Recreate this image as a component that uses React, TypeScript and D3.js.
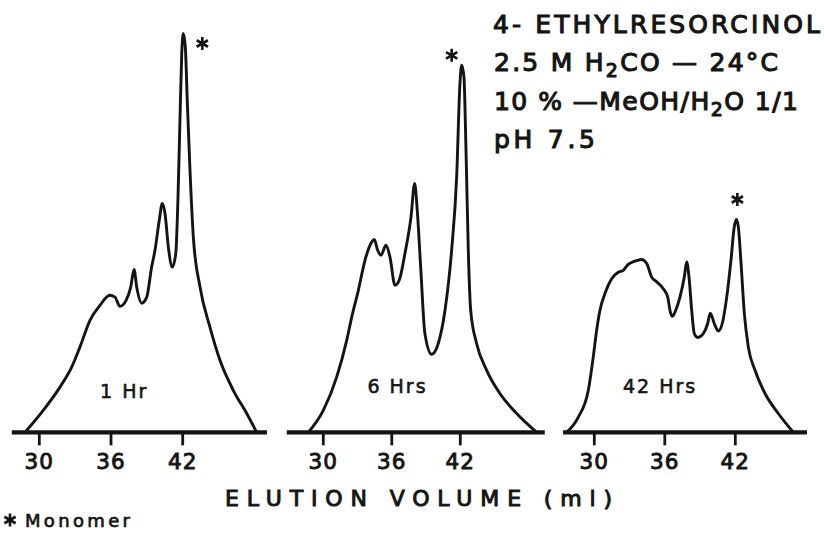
import React from "react";
import * as d3 from "d3";

// ---- data (elution volume in ml, relative absorbance) ----
const tickValues = [30, 36, 42];
const tickLabels = ["30", "36", "42"];
const panelLabels = ["1 Hr", "6 Hrs", "42 Hrs"];

const vol1 = [28.8, 30.33, 31.73, 32.71, 33.4, 34.24, 35.08, 35.9, 36.33, 36.75, 37.26, 37.65, 37.93, 38.15, 38.57, 38.99, 39.4, 39.68, 40.04, 40.29, 40.52, 40.8, 41.13, 41.42, 41.63, 41.77, 41.92, 42.05, 42.22, 42.39, 42.61, 42.89, 43.45, 44.28, 45.12, 46.23, 47.36, 48.19];
const abs1 = [0, 5.5, 11.3, 16.3, 21.3, 28, 31.75, 34.25, 33.8, 31.5, 33, 36.3, 40.7, 36.3, 32.3, 33.8, 41.3, 45.5, 53, 57.2, 54.7, 46.3, 41.3, 44.7, 61.3, 78, 94.7, 99.7, 96.3, 82.2, 65.5, 48.8, 36.3, 26.3, 18, 10.5, 4.7, 0];

const vol6 = [28.69, 30, 31.17, 32.05, 32.49, 33.07, 33.65, 34.09, 34.47, 34.76, 35.05, 35.49, 35.84, 36.28, 36.65, 37.15, 37.68, 38, 38.23, 38.53, 38.9, 39.49, 40.07, 40.66, 41.24, 41.68, 41.97, 42.12, 42.32, 42.5, 42.7, 42.91, 43.43, 44.31, 45.47, 46.94, 48.69];
const abs6 = [0, 5.5, 13.8, 23, 28.8, 35.5, 43, 46.75, 48.2, 45.5, 44.25, 46.75, 43.8, 36.75, 38, 44.7, 53.8, 62.2, 55.5, 41.3, 24.7, 19.5, 22.2, 30.5, 45.5, 63.8, 87.2, 91.75, 88.8, 70.5, 45.5, 30.5, 22.2, 15.5, 9.7, 4.7, 0];

const vol42 = [27.65, 28.64, 29.49, 29.91, 30.2, 30.48, 30.91, 31.48, 32.04, 32.47, 32.89, 33.46, 34.03, 34.46, 34.88, 35.31, 35.87, 36.25, 36.44, 36.64, 36.93, 37.29, 37.66, 37.86, 38.06, 38.29, 38.51, 38.8, 39.28, 39.65, 39.87, 40.21, 40.55, 40.89, 41.27, 41.63, 41.91, 42.09, 42.26, 42.49, 42.77, 43.11, 43.68, 44.53, 45.66, 46.94];
const abs42 = [0, 3.8, 10.5, 18.8, 25.5, 30.5, 34.7, 38.4, 40, 40.5, 42, 42.8, 43.2, 42.2, 38.8, 37.6, 35.9, 33.8, 30.5, 29, 30.5, 33.8, 38.8, 42.6, 38.8, 30.5, 24.7, 23.7, 24.7, 27.2, 29.8, 27.2, 25.3, 27.2, 33.8, 43, 51.3, 53.2, 51.3, 42.2, 29.7, 21.3, 15.5, 9.7, 4.7, 0];

const seriesVol = [vol1, vol6, vol42];
const seriesAbs = [abs1, abs6, abs42];

// ---- layout ----
const W = 824;
const H = 535;
const BASE = 432.3;
const INK = "#141414";
const FONT = "'DejaVu Sans', sans-serif";

const panelLayout = [
  { r30: 39.3, r42: 182.7, axis: [27.7, 49.05], label: [37.1, 8.6], star: [19, 10] },
  { r30: 323.3, r42: 460.3, axis: [26.8, 49.4], label: [36.5, 9.8], star: [-10, -10] },
  { r30: 594.3, r42: 735.3, axis: [27.34, 48.1], label: [35.6, 9.8], star: [1, -20] },
];

const y = d3.scaleLinear().domain([0, 100]).range([BASE, BASE - 400]);

function Asterisk({ cx, cy, r = 6.5, w = 2.6 }: { cx: number; cy: number; r?: number; w?: number }) {
  const angles = [90, 30, 150];
  return (
    <g stroke={INK} strokeWidth={w} strokeLinecap="butt">
      {angles.map((a) => {
        const t = (a * Math.PI) / 180;
        return (
          <line
            key={a}
            x1={cx - r * Math.cos(t)}
            y1={cy - r * Math.sin(t)}
            x2={cx + r * Math.cos(t)}
            y2={cy + r * Math.sin(t)}
          />
        );
      })}
    </g>
  );
}

function Panel({ i }: { i: number }) {
  const L = panelLayout[i];
  const x = d3.scaleLinear().domain([30, 42]).range([L.r30, L.r42]);
  const pts: [number, number][] = seriesVol[i].map((v, k) => [v, seriesAbs[i][k]]);
  const line = d3
    .line<[number, number]>()
    .x((d) => x(d[0]))
    .y((d) => y(d[1]))
    .curve(d3.curveMonotoneX);
  const peak = pts.reduce((a, b) => (b[1] > a[1] ? b : a));
  return (
    <g>
      <path d={line(pts) || ""} fill="none" stroke={INK} strokeWidth={2.9} strokeLinejoin="round" />
      <line x1={x(L.axis[0])} x2={x(L.axis[1])} y1={BASE} y2={BASE} stroke={INK} strokeWidth={4.2} />
      {tickValues.map((t, k) => (
        <g key={t}>
          <line x1={x(t)} x2={x(t)} y1={BASE} y2={BASE + 13} stroke={INK} strokeWidth={2.8} />
          <text
            x={x(t)}
            y={BASE + 37}
            textAnchor="middle"
            fontFamily={FONT}
            fontSize={21.5}
            fill={INK}
            stroke={INK}
            strokeWidth={0.9}
            letterSpacing={1}
          >
            {tickLabels[k]}
          </text>
        </g>
      ))}
      <text
        x={x(L.label[0])}
        y={y(L.label[1])}
        textAnchor="middle"
        fontFamily={FONT}
        fontSize={19}
        fill={INK}
        stroke={INK}
        strokeWidth={0.6}
        letterSpacing={2}
      >
        {panelLabels[i]}
      </text>
      <Asterisk cx={x(peak[0]) + L.star[0]} cy={y(peak[1]) + L.star[1]} />
    </g>
  );
}

export default function App() {
  const titleProps = {
    fontFamily: FONT,
    fontSize: 25,
    fill: INK,
    stroke: INK,
    strokeWidth: 1.1,
    lengthAdjust: "spacing" as const,
  };
  return (
    <svg
      width={W}
      height={H}
      viewBox={`0 0 ${W} ${H}`}
      style={{ position: "absolute", left: 0, top: 0, background: "#fff" }}
    >
      <rect width={W} height={H} fill="#fff" />
      {[0, 1, 2].map((i) => (
        <Panel key={i} i={i} />
      ))}

      <text x={493} y={33} textLength={327} {...titleProps}>
        4- ETHYLRESORCINOL
      </text>
      <text x={494} y={71} textLength={284} {...titleProps}>
        2.5 M H
        <tspan dy={6} fontSize={19}>2</tspan>
        <tspan dy={-6}>CO — 24°C</tspan>
      </text>
      <text x={494} y={110} textLength={304} {...titleProps}>
        10 % —MeOH/H
        <tspan dy={6} fontSize={19}>2</tspan>
        <tspan dy={-6}>O 1/1</tspan>
      </text>
      <text x={494} y={148} textLength={101} {...titleProps}>
        pH 7.5
      </text>

      <text
        x={225}
        y={506}
        textLength={387}
        lengthAdjust="spacing"
        fontFamily={FONT}
        fontSize={22}
        fill={INK}
        stroke={INK}
        strokeWidth={1}
      >
        ELUTION VOLUME (ml)
      </text>

      <Asterisk cx={10} cy={520} r={6.5} w={2.6} />
      <text
        x={25}
        y={527}
        textLength={105}
        lengthAdjust="spacing"
        fontFamily={FONT}
        fontSize={18}
        fill={INK}
        stroke={INK}
        strokeWidth={0.7}
      >
        Monomer
      </text>
    </svg>
  );
}
